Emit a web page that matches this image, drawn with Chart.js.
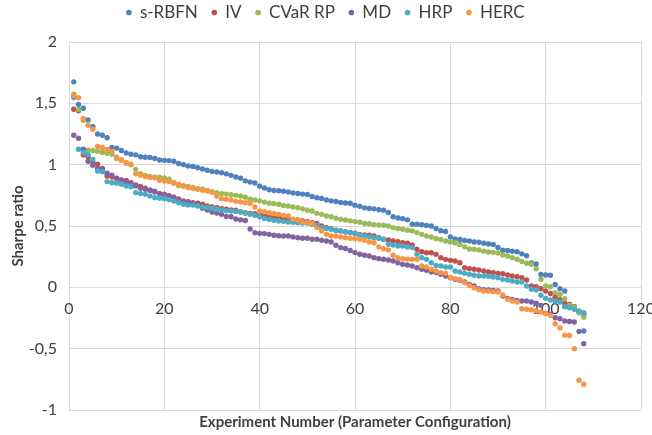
<!DOCTYPE html>
<html>
<head>
<meta charset="utf-8">
<script src="https://cdn.jsdelivr.net/npm/chart.js@4.4.1/dist/chart.umd.min.js"></script>
<style>
html,body{margin:0;padding:0;background:#ffffff;}
#wrap{width:652px;height:435px;}
</style>
</head>
<body>
<div id="wrap"><canvas id="c" width="652" height="435"></canvas></div>
<script>
const seriesNames = ['s-RBFN', 'IV', 'CVaR RP', 'MD', 'HRP', 'HERC'];
const seriesColors = ['#4F81BD', '#C0504D', '#9BBB59', '#8064A2', '#4BACC6', '#F79646'];

const sRBFN = [1.675,1.49,1.46,1.365,1.31,1.25,1.24,1.22,1.14,1.135,
1.115,1.095,1.085,1.08,1.065,1.06,1.058,1.05,1.038,1.035,
1.033,1.028,1.01,1.0,0.99,0.985,0.975,0.965,0.955,0.945,
0.94,0.935,0.925,0.913,0.9,0.89,0.868,0.858,0.85,0.825,
0.81,0.795,0.79,0.788,0.783,0.778,0.77,0.765,0.76,0.757,
0.74,0.73,0.725,0.712,0.705,0.7,0.692,0.688,0.685,0.67,
0.66,0.648,0.643,0.64,0.632,0.628,0.61,0.575,0.565,0.56,
0.55,0.515,0.515,0.51,0.505,0.5,0.48,0.462,0.455,0.41,
0.395,0.39,0.382,0.378,0.37,0.368,0.36,0.353,0.35,0.325,
0.302,0.3,0.295,0.29,0.273,0.258,0.198,0.19,0.106,0.1,
0.098,0.024,-0.011,-0.03,-0.14,-0.17,-0.2,-0.356];

const IV = [1.452,1.44,1.08,1.065,1.02,1.003,0.97,0.908,0.9,0.887,
0.876,0.872,0.854,0.835,0.822,0.808,0.792,0.778,0.764,0.759,
0.748,0.735,0.72,0.704,0.698,0.69,0.685,0.677,0.663,0.655,
0.65,0.644,0.636,0.63,0.628,0.617,0.609,0.603,0.6,0.595,
0.587,0.576,0.568,0.563,0.558,0.555,0.552,0.549,0.541,0.536,
0.527,0.52,0.5,0.487,0.479,0.465,0.46,0.452,0.446,0.441,
0.432,0.427,0.424,0.419,0.405,0.391,0.386,0.378,0.373,0.364,
0.359,0.345,0.31,0.291,0.282,0.282,0.269,0.242,0.228,0.22,
0.215,0.201,0.16,0.152,0.147,0.141,0.133,0.125,0.12,0.114,
0.111,0.1,0.092,0.087,0.079,0.06,0.011,0.005,-0.011,-0.03,
-0.05,-0.08,-0.1,-0.13,-0.14,-0.155,-0.2,-0.22];

const CVaRRP = [1.575,1.449,1.362,1.117,1.115,1.11,1.1,1.093,1.085,1.06,
1.04,1.012,1.0,0.962,0.927,0.913,0.902,0.897,0.897,0.892,
0.881,0.848,0.83,0.826,0.822,0.815,0.805,0.8,0.79,0.778,
0.772,0.764,0.76,0.755,0.75,0.745,0.735,0.718,0.712,0.705,
0.695,0.686,0.682,0.677,0.668,0.663,0.655,0.649,0.64,0.628,
0.622,0.603,0.595,0.582,0.575,0.563,0.555,0.549,0.542,0.536,
0.53,0.52,0.518,0.51,0.508,0.506,0.5,0.487,0.48,0.473,
0.465,0.46,0.446,0.432,0.418,0.41,0.397,0.39,0.378,0.37,
0.364,0.35,0.33,0.312,0.31,0.305,0.295,0.288,0.285,0.28,
0.264,0.256,0.242,0.229,0.21,0.196,0.188,0.152,0.065,0.011,
0.005,-0.043,-0.057,-0.092,-0.147,-0.16,-0.207,-0.243];

const MD = [1.24,1.215,1.126,1.027,0.995,0.97,0.96,0.93,0.915,0.89,
0.873,0.859,0.846,0.827,0.808,0.8,0.792,0.783,0.762,0.754,
0.745,0.732,0.712,0.7,0.69,0.68,0.665,0.645,0.63,0.614,
0.605,0.595,0.578,0.575,0.557,0.55,0.545,0.475,0.445,0.44,
0.438,0.432,0.425,0.42,0.419,0.419,0.411,0.405,0.4,0.4,
0.392,0.392,0.384,0.378,0.37,0.343,0.324,0.316,0.3,0.283,
0.27,0.261,0.256,0.242,0.234,0.229,0.223,0.215,0.201,0.188,
0.182,0.174,0.16,0.147,0.139,0.125,0.12,0.106,0.092,0.079,
0.065,0.057,0.044,0.024,0.011,-0.011,-0.02,-0.022,-0.025,-0.03,
-0.071,-0.09,-0.098,-0.106,-0.111,-0.111,-0.12,-0.13,-0.147,-0.212,
-0.22,-0.248,-0.256,-0.275,-0.278,-0.283,-0.36,-0.46];

const HRP = [1.547,1.126,1.1,1.083,1.042,0.948,0.943,0.862,0.853,0.848,
0.84,0.826,0.82,0.772,0.764,0.758,0.745,0.731,0.726,0.723,
0.715,0.704,0.69,0.677,0.672,0.671,0.663,0.655,0.65,0.644,
0.636,0.632,0.625,0.622,0.618,0.614,0.603,0.595,0.587,0.576,
0.562,0.554,0.546,0.541,0.538,0.533,0.53,0.527,0.525,0.522,
0.514,0.506,0.487,0.479,0.473,0.465,0.46,0.454,0.446,0.438,
0.427,0.419,0.411,0.405,0.4,0.392,0.351,0.345,0.337,0.337,
0.329,0.324,0.269,0.242,0.228,0.201,0.179,0.174,0.166,0.166,
0.133,0.125,0.114,0.106,0.098,0.092,0.092,0.09,0.084,0.079,
0.065,0.06,0.052,0.044,0.044,0.011,-0.016,-0.022,-0.065,-0.09,
-0.103,-0.111,-0.12,-0.158,-0.166,-0.179,-0.193,-0.207];

const HERC = [1.565,1.545,1.376,1.322,1.289,1.148,1.14,1.125,1.11,1.05,
1.035,1.016,1.003,0.925,0.913,0.903,0.895,0.893,0.873,0.867,
0.862,0.854,0.84,0.826,0.813,0.805,0.799,0.791,0.786,0.775,
0.745,0.723,0.718,0.712,0.701,0.696,0.69,0.685,0.655,0.622,
0.617,0.609,0.603,0.595,0.587,0.582,0.555,0.549,0.533,0.527,
0.52,0.487,0.46,0.432,0.419,0.418,0.411,0.405,0.4,0.397,
0.392,0.384,0.37,0.364,0.33,0.315,0.305,0.261,0.242,0.234,
0.23,0.228,0.228,0.174,0.166,0.147,0.133,0.12,0.114,0.079,
0.071,0.065,0.038,0.016,-0.003,-0.02,-0.03,-0.032,-0.035,-0.038,
-0.063,-0.098,-0.112,-0.12,-0.174,-0.179,-0.185,-0.193,-0.201,-0.215,
-0.23,-0.297,-0.332,-0.39,-0.392,-0.5,-0.758,-0.79];

const seriesValues = [sRBFN, IV, CVaRRP, MD, HRP, HERC];
const xTickValues = [0, 20, 40, 60, 80, 100, 120];
const yTickValues = [-1, -0.5, 0, 0.5, 1, 1.5, 2];
const yTickLabels = ['-1', '-0,5', '0', '0,5', '1', '1,5', '2'];
const xTitle = 'Experiment Number (Parameter Configuration)';
const yTitle = 'Sharpe ratio';

const FONT = 'Lato, "Open Sans", "DejaVu Sans", sans-serif';
const TEXT = '#404040';
const GRID = '#d9d9d9';

const datasets = seriesNames.map((name, i) => ({
  label: name,
  data: seriesValues[i].map((v, k) => ({x: k + 1, y: v})),
  backgroundColor: seriesColors[i],
  borderColor: seriesColors[i],
  pointRadius: 2.7,
  pointBorderWidth: 0,
  pointHoverRadius: 2.7,
  order: seriesNames.length - i
}));

const legendSpacer = {
  id: 'legendSpacer',
  beforeInit(chart) {
    const origFit = chart.legend.fit;
    chart.legend.fit = function () {
      origFit.bind(chart.legend)();
      this.height += 11;
    };
  }
};

new Chart(document.getElementById('c').getContext('2d'), {
  type: 'scatter',
  data: {datasets},
  plugins: [legendSpacer],
  options: {
    responsive: false,
    animation: false,
    devicePixelRatio: 1,
    layout: {padding: {left: 10, right: 11, top: -10, bottom: 0}},
    plugins: {
      legend: {
        position: 'top',
        labels: {
          usePointStyle: true,
          pointStyle: 'circle',
          boxWidth: 5,
          boxHeight: 4,
          padding: 14,
          color: TEXT,
          font: {family: FONT, size: 17},
          sort: (a, b) => a.datasetIndex - b.datasetIndex
        }
      },
      title: {
        display: true,
        position: 'bottom',
        fullSize: false,
        text: xTitle,
        color: TEXT,
        font: {family: FONT, size: 15, weight: 'bold'},
        padding: {top: 3, bottom: 4}
      },
      tooltip: {enabled: false}
    },
    scales: {
      x: {
        type: 'linear',
        position: {y: 0},
        min: 0,
        max: 120,
        afterBuildTicks: (s) => { s.ticks = xTickValues.map(v => ({value: v})); },
        ticks: {color: TEXT, font: {family: FONT, size: 16}, padding: 12, maxRotation: 0, autoSkip: false},
        grid: {color: GRID, drawTicks: false},
        border: {color: GRID},
        afterFit: (s) => { s.height = 0; s.paddingLeft = 0; s.paddingRight = 0; }
      },
      y: {
        min: -1,
        max: 2,
        afterBuildTicks: (s) => { s.ticks = yTickValues.map(v => ({value: v})); },
        ticks: {
          color: TEXT,
          font: {family: FONT, size: 16},
          padding: 12,
          callback: (v) => yTickLabels[yTickValues.indexOf(v)]
        },
        grid: {color: GRID, drawTicks: false},
        border: {display: false},
        title: {
          display: true,
          text: yTitle,
          color: TEXT,
          font: {family: FONT, size: 15, weight: 'bold'},
          padding: {top: -1, bottom: 0}
        },
        afterFit: (s) => { s.width = 59; }
      }
    }
  }
});
</script>
</body>
</html>
